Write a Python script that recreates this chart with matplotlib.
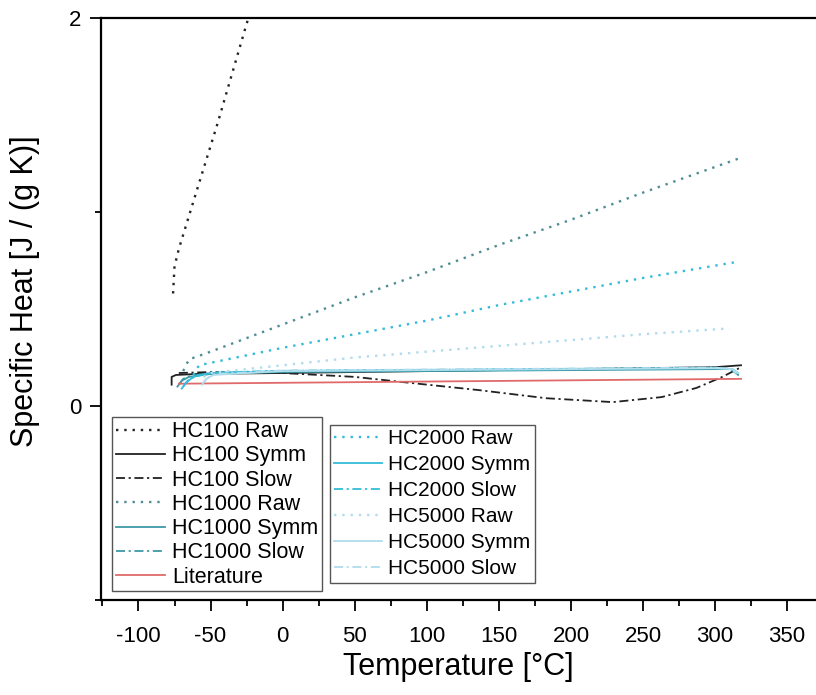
import matplotlib.pyplot as plt
from matplotlib.ticker import MultipleLocator

plt.rcParams['font.family'] = ['Liberation Sans', 'DejaVu Sans']
plt.rcParams['axes.unicode_minus'] = False

# HC100
hc100_raw_x = [-76, -75, -72, -60, -45, -25, -15]
hc100_raw_y = [0.58, 0.72, 0.81, 1.10, 1.46, 1.97, 2.2]
hc100_symm_x = [-77, -77, -74, -60, 0, 100, 200, 300, 318]
hc100_symm_y = [0.11, 0.15, 0.16, 0.165, 0.17, 0.18, 0.19, 0.20, 0.21]
hc100_slow_x = [-72, -50, 0, 50, 90, 136, 183, 229, 263, 287, 305, 317]
hc100_slow_y = [0.17, 0.175, 0.17, 0.15, 0.118, 0.082, 0.04, 0.02, 0.046, 0.093, 0.15, 0.196]

# HC1000
hc1000_raw_x = [-69, -65, -50, 0, 50, 100, 150, 200, 250, 318]
hc1000_raw_y = [0.18, 0.24, 0.28, 0.42, 0.56, 0.69, 0.83, 0.96, 1.10, 1.28]
hc1000_symm_x = [-73, -70, -65, -50, 0, 100, 200, 300, 312, 316]
hc1000_symm_y = [0.10, 0.13, 0.15, 0.165, 0.175, 0.18, 0.185, 0.19, 0.19, 0.16]
hc1000_slow_x = [-72, -69, -64, -50, 0, 100, 200, 300, 311, 315]
hc1000_slow_y = [0.11, 0.14, 0.155, 0.17, 0.178, 0.182, 0.188, 0.195, 0.19, 0.17]

# HC2000
hc2000_raw_x = [-62, -58, 0, 50, 100, 150, 200, 250, 313]
hc2000_raw_y = [0.16, 0.21, 0.30, 0.37, 0.44, 0.52, 0.59, 0.66, 0.74]
hc2000_symm_x = [-70, -67, -62, -50, 0, 100, 200, 300, 312, 316]
hc2000_symm_y = [0.09, 0.12, 0.15, 0.17, 0.18, 0.185, 0.19, 0.195, 0.19, 0.17]
hc2000_slow_x = [-69, -66, -60, -50, 0, 100, 200, 300, 311, 315]
hc2000_slow_y = [0.10, 0.13, 0.155, 0.172, 0.182, 0.187, 0.192, 0.198, 0.19, 0.165]

# HC5000
hc5000_raw_x = [-55, -50, 0, 50, 100, 150, 200, 250, 310]
hc5000_raw_y = [0.15, 0.17, 0.21, 0.25, 0.28, 0.31, 0.34, 0.37, 0.40]
hc5000_symm_x = [-56, -53, -48, 0, 100, 200, 300, 312, 316]
hc5000_symm_y = [0.11, 0.14, 0.16, 0.18, 0.185, 0.19, 0.195, 0.19, 0.17]
hc5000_slow_x = [-55, -52, -47, 0, 100, 200, 300, 311, 315]
hc5000_slow_y = [0.12, 0.145, 0.165, 0.183, 0.188, 0.193, 0.198, 0.19, 0.168]

# Literature
lit_x = [-72, 318]
lit_y = [0.115, 0.14]

c100 = '#222222'
c1000 = '#3e9aa6'
c1000_raw = '#4f8d94'
c2000 = '#33bcd8'
c5000 = '#b0dcec'
c_lit = '#e06a6a'

dot = (0, (1, 2.5))
dashdot = (0, (5, 2, 1.2, 2))

fig = plt.figure(figsize=(8.16, 6.95), dpi=100)
ax = fig.add_axes([101 / 816, 95 / 695, 715 / 816, 582 / 695])

lw = 1.3
l1 = ax.plot(hc100_raw_x, hc100_raw_y, color=c100, ls=dot, lw=1.7, label='HC100 Raw')
l2 = ax.plot(hc100_symm_x, hc100_symm_y, color=c100, ls='-', lw=lw, label='HC100 Symm')
l3 = ax.plot(hc100_slow_x, hc100_slow_y, color=c100, ls=dashdot, lw=lw, label='HC100 Slow')
l4 = ax.plot(hc1000_raw_x, hc1000_raw_y, color=c1000_raw, ls=dot, lw=1.7, label='HC1000 Raw')
l5 = ax.plot(hc1000_symm_x, hc1000_symm_y, color=c1000, ls='-', lw=lw, label='HC1000 Symm')
l6 = ax.plot(hc1000_slow_x, hc1000_slow_y, color=c1000, ls=dashdot, lw=lw, label='HC1000 Slow')
l7 = ax.plot(lit_x, lit_y, color=c_lit, ls='-', lw=lw, label='Literature')
l8 = ax.plot(hc2000_raw_x, hc2000_raw_y, color=c2000, ls=dot, lw=1.7, label='HC2000 Raw')
l9 = ax.plot(hc2000_symm_x, hc2000_symm_y, color=c2000, ls='-', lw=lw, label='HC2000 Symm')
l10 = ax.plot(hc2000_slow_x, hc2000_slow_y, color=c2000, ls=dashdot, lw=lw, label='HC2000 Slow')
l11 = ax.plot(hc5000_raw_x, hc5000_raw_y, color=c5000, ls=dot, lw=1.7, label='HC5000 Raw')
l12 = ax.plot(hc5000_symm_x, hc5000_symm_y, color=c5000, ls='-', lw=lw, label='HC5000 Symm')
l13 = ax.plot(hc5000_slow_x, hc5000_slow_y, color=c5000, ls=dashdot, lw=lw, label='HC5000 Slow')

ax.set_xlim(-126, 370)
ax.set_ylim(-1, 2)
ax.xaxis.set_major_locator(MultipleLocator(50))
ax.xaxis.set_minor_locator(MultipleLocator(25))
ax.yaxis.set_major_locator(MultipleLocator(2))
ax.yaxis.set_minor_locator(MultipleLocator(1))
ax.tick_params(which='major', direction='out', length=8, width=1.3, labelsize=16)
ax.tick_params(axis='x', which='major', pad=11)
ax.tick_params(axis='y', which='major', pad=6)
ax.tick_params(which='minor', direction='out', length=4, width=1.3)
ax.spines['right'].set_visible(False)
for s in ['left', 'bottom', 'top']:
    ax.spines[s].set_linewidth(1.6)

ax.set_xlabel('Temperature [°C]', fontsize=22)
ax.set_ylabel('Specific Heat [J / (g K)]', fontsize=22)
ax.xaxis.set_label_coords(0.5, -0.089)
ax.yaxis.set_label_coords(-0.085, 0.53)

leg_kw = dict(loc='upper left', frameon=True, fancybox=False,
              edgecolor='#555555', framealpha=1, borderaxespad=0,
              handlelength=2.3, handletextpad=0.3)
leg1 = ax.legend(handles=l1 + l2 + l3 + l4 + l5 + l6 + l7, fontsize=15.5,
                 borderpad=0.18, labelspacing=0.15,
                 bbox_to_anchor=(0.0154, 0.314), **leg_kw)
leg1.get_frame().set_linewidth(1.0)
ax.add_artist(leg1)
leg2 = ax.legend(handles=l8 + l9 + l10 + l11 + l12 + l13, fontsize=15,
                 borderpad=0.2, labelspacing=0.34,
                 bbox_to_anchor=(0.320, 0.301), **leg_kw)
leg2.get_frame().set_linewidth(1.0)

fig.savefig('out.png', dpi=100)
